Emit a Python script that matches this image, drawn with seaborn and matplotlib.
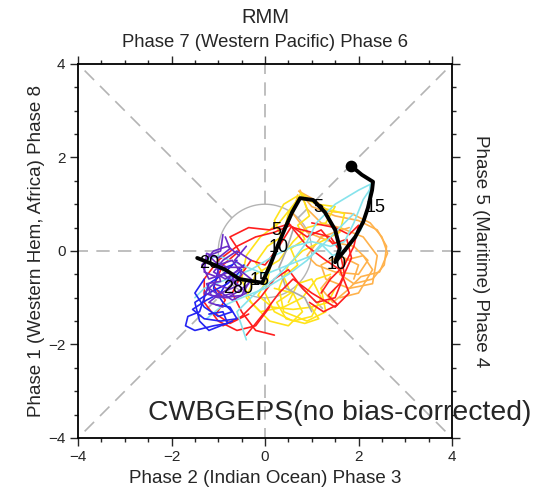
import numpy as np
import pandas as pd
import matplotlib
matplotlib.use("Agg")
import matplotlib.pyplot as plt
import seaborn as sns

# ---- ensemble member tracks (RMM1, RMM2), grouped by colour ----
orange_tracks = [
    [(0.75, 1.25), (1.0, 0.95), (1.5, 0.75), (2.0, 0.65), (2.4, 0.45), (2.6, 0.1), (2.55, -0.3),
     (2.3, -0.6), (1.9, -0.7), (1.6, -0.5), (1.7, -0.2), (2.1, -0.1), (2.3, -0.4), (2.0, -0.9), (1.6, -1.0)],
    [(0.75, 1.3), (0.9, 0.9), (1.2, 0.6), (1.6, 0.5), (2.1, 0.3), (2.4, -0.1), (2.3, -0.7),
     (1.8, -0.8), (1.3, -0.6), (1.2, -0.3), (1.6, -0.1), (2.0, -0.3), (1.9, -0.6)],
    [(0.7, 1.2), (0.6, 0.8), (0.9, 0.4), (1.4, 0.2), (1.9, 0.1), (2.2, -0.2), (2.0, -0.5),
     (1.5, -0.45), (1.1, -0.3), (0.9, -0.1), (1.2, 0.3), (1.8, 0.5)],
    [(0.72, 1.28), (1.05, 1.1), (1.35, 0.85), (1.85, 0.8), (2.25, 0.6), (2.5, 0.3), (2.62, -0.05),
     (2.45, -0.45), (2.05, -0.55), (1.75, -0.85), (1.45, -1.1), (1.2, -0.8), (1.4, -0.55)],
]
yellow_tracks = [
    [(0.75, 1.2), (0.5, 0.8), (0.4, 0.4), (0.2, 0.0), (0.1, -0.4), (0.0, -0.9), (0.2, -1.3),
     (0.6, -1.5), (1.0, -1.4), (1.2, -1.0), (1.0, -0.6), (0.7, -0.7), (0.5, -1.1)],
    [(0.8, 1.15), (1.3, 0.9), (1.7, 0.8), (1.6, 0.4), (1.2, 0.2), (0.8, 0.0), (0.5, -0.3),
     (0.3, -0.8), (0.4, -1.3), (0.9, -1.5), (1.3, -1.3), (1.2, -0.8)],
    [(0.7, 1.1), (0.3, 0.6), (-0.1, 0.3), (-0.4, -0.1), (-0.5, -0.6), (-0.3, -1.1), (0.1, -1.5),
     (0.5, -1.6), (0.8, -1.3), (0.6, -0.9), (0.2, -0.8)],
    [(0.75, 1.25), (1.1, 1.0), (1.5, 0.95), (1.3, 0.6), (0.9, 0.5), (0.6, 0.2), (0.3, -0.2),
     (-0.2, -0.5), (-0.4, -1.0), (-0.1, -1.3), (0.4, -1.2), (0.8, -1.0), (1.1, -0.6), (1.4, -0.5)],
    [(0.78, 1.22), (0.95, 0.75), (0.7, 0.55), (0.85, 0.25), (0.55, 0.05), (0.7, -0.3), (0.4, -0.55),
     (0.55, -0.9), (0.25, -1.1), (0.45, -1.45), (0.85, -1.55), (1.15, -1.45), (0.95, -1.15)],
    [(0.7, 1.18), (0.4, 1.0), (0.2, 0.65), (0.35, 0.3), (0.05, 0.1), (-0.2, -0.25), (0.05, -0.6),
     (-0.15, -0.95), (0.15, -1.2), (0.6, -1.25), (1.0, -1.2), (1.35, -1.1), (1.5, -0.8)],
]
gray_tracks = [
    [(0.6, 0.45), (0.45, 0.0), (0.3, -0.35), (0.45, -0.8), (0.85, -1.0), (1.0, -1.3)],
]
red_tracks = [
    [(0.55, 0.55), (0.2, 0.4), (-0.2, 0.3), (-0.6, 0.1), (-1.0, -0.2), (-1.3, -0.6), (-1.3, -1.1),
     (-1.0, -1.5), (-0.6, -1.7), (-0.2, -1.6), (0.1, -1.2)],
    [(0.6, 0.5), (1.0, 0.4), (1.4, 0.3), (1.6, 0.0), (1.7, -0.5), (1.5, -1.0), (1.1, -1.1),
     (0.8, -0.8), (0.5, -0.4), (0.2, -0.6), (-0.1, -1.0), (-0.5, -1.4), (-0.9, -1.6)],
    [(0.5, 0.6), (0.9, 0.1), (1.3, -0.2), (1.6, -0.4), (1.8, -0.9), (1.5, -1.2), (1.0, -0.9),
     (0.6, -0.6), (0.3, -0.9), (0.0, -1.3), (-0.4, -1.8)],
    [(0.55, 0.5), (0.3, 0.1), (0.0, -0.3), (-0.3, -0.2), (-0.5, -0.5), (-0.7, -0.9), (-0.5, -1.3),
     (-0.2, -1.7), (0.2, -1.8)],
    [(1.0, 0.6), (1.5, 0.5), (1.8, 0.35), (2.0, 0.55), (1.9, 0.1), (1.7, -0.3), (1.4, -0.6), (1.2, -0.9)],
    [(0.58, 0.52), (0.9, 0.3), (1.2, 0.45), (1.45, 0.15), (1.75, 0.25), (1.85, -0.15), (1.6, -0.7),
     (1.35, -0.95), (1.55, -1.15), (1.25, -1.3), (0.95, -1.1)],
    [(0.52, 0.58), (0.1, 0.45), (-0.35, 0.5), (-0.75, 0.3), (-0.55, 0.0), (-0.9, -0.3), (-1.1, -0.75),
     (-0.85, -1.05), (-1.05, -1.35), (-0.75, -1.55), (-0.35, -1.35)],
]
cyan_tracks = [
    [(2.3, 1.45), (2.0, 1.3), (1.5, 1.0), (1.1, 0.6), (0.9, 0.2), (0.6, -0.2), (0.2, -0.6),
     (-0.2, -0.9), (-0.6, -1.3), (-0.5, -1.6), (-0.4, -1.9)],
    [(2.3, 1.4), (2.1, 1.1), (1.9, 0.6), (1.7, 0.2), (1.4, 0.1), (1.0, 0.2), (0.6, 0.1),
     (0.2, -0.1), (-0.3, -0.4), (-0.8, -0.6), (-1.3, -0.8), (-1.5, -1.0)],
    [(1.9, 0.8), (1.5, 0.4), (1.0, -0.1), (0.5, -0.3), (0.0, -0.5), (-0.5, -0.3), (-1.0, -0.1), (-1.3, -0.2)],
    [(2.25, 1.42), (2.2, 0.95), (2.05, 0.45), (1.75, 0.05), (1.45, -0.1), (1.2, 0.15), (0.9, -0.2),
     (0.5, -0.5), (0.0, -0.8), (-0.5, -1.0), (-0.95, -1.2), (-1.25, -1.45)],
]
blue_tracks = [
    [(-0.6, -0.2), (-0.9, -0.5), (-1.2, -0.7), (-1.3, -1.0), (-1.4, -1.3), (-1.65, -1.4), (-1.7, -1.6),
     (-1.5, -1.7), (-1.1, -1.6), (-0.8, -1.55), (-0.9, -1.3), (-1.2, -1.35)],
    [(-0.7, -0.3), (-1.0, -0.4), (-1.1, -0.8), (-0.9, -1.1), (-0.7, -1.3), (-1.0, -1.4), (-1.3, -1.2),
     (-1.5, -0.9), (-1.3, -0.6)],
    [(-0.5, -0.4), (-0.8, -0.7), (-1.2, -0.9), (-1.5, -1.1), (-1.4, -1.5), (-1.2, -1.7), (-0.7, -1.5)],
    [(-0.45, -0.3), (-0.75, -0.55), (-0.95, -0.9), (-1.25, -1.05), (-1.55, -1.25), (-1.3, -1.45),
     (-0.95, -1.5), (-0.6, -1.45), (-0.75, -1.2), (-1.05, -1.15)],
]
purple_tracks = [
    [(-0.9, 0.35), (-0.95, 0.0), (-1.2, -0.1), (-1.0, -0.3), (-0.7, -0.2), (-0.5, -0.5), (-0.8, -0.8),
     (-1.1, -0.7), (-1.3, -0.9), (-1.0, -1.0), (-0.7, -0.9)],
    [(-0.55, -0.1), (-0.8, 0.1), (-1.1, 0.0), (-1.35, -0.3), (-1.2, -0.6), (-0.9, -0.5), (-0.6, -0.7),
     (-0.4, -0.9), (-0.7, -1.05), (-1.0, -0.85)],
    [(-0.3, -0.2), (-0.6, 0.0), (-0.9, -0.2), (-1.1, -0.45), (-0.85, -0.6), (-0.55, -0.4), (-0.3, -0.6),
     (-0.5, -0.95), (-0.9, -1.0), (-1.2, -0.8)],
    [(-0.85, 0.3), (-0.75, 0.05), (-1.0, -0.15), (-1.25, -0.05), (-1.3, -0.45), (-1.05, -0.55),
     (-0.75, -0.45), (-0.6, -0.75), (-0.95, -0.9), (-1.2, -1.1), (-0.9, -1.2)],
    [(-0.4, 0.1), (-0.65, -0.2), (-0.45, -0.35), (-0.8, -0.35), (-1.05, -0.25), (-0.95, -0.65),
     (-1.25, -0.7), (-1.15, -0.95), (-0.8, -1.0), (-0.55, -0.85), (-0.35, -0.7)],
]

# ---- analysed MJO track and its day labels ----
obs_rmm1 = [-1.45, -1.2, -0.85, -0.55, -0.06, 0.11, 0.28, 0.43, 0.58, 0.75, 1.03, 1.28, 1.5, 1.6,
            1.5, 1.71, 1.93, 2.1, 2.2, 2.29, 2.31, 2.07, 1.84]
obs_rmm2 = [-0.15, -0.25, -0.4, -0.6, -0.68, -0.3, 0.13, 0.49, 0.83, 1.13, 1.09, 0.83, 0.45, 0.06,
            -0.24, 0.02, 0.3, 0.62, 0.92, 1.3, 1.48, 1.63, 1.82]
day_labels = ["20", "280", "15", "5", "10", "5", "10", "15"]
day_label_x = [-1.2, -0.58, -0.12, 0.24, 0.3, 1.13, 1.54, 2.37]
day_label_y = [-0.26, -0.81, -0.64, 0.44, 0.08, 0.94, -0.30, 0.92]

tick_values = [-4, -2, 0, 2, 4]
palette = {"orange": "#FFB24C", "yellow": "#FFE31A", "gray": "#A8A8A8", "red": "#FF1E1E",
           "cyan": "#86E3EC", "blue": "#2424F2", "purple": "#6A2CC8"}

rows = []
groups = [("orange", orange_tracks), ("yellow", yellow_tracks), ("gray", gray_tracks),
          ("red", red_tracks), ("cyan", cyan_tracks), ("blue", blue_tracks),
          ("purple", purple_tracks)]
member = 0
for name, tracks in groups:
    for tr in tracks:
        for step, (x, y) in enumerate(tr):
            rows.append({"group": name, "member": member, "step": step, "RMM1": x, "RMM2": y})
        member += 1
members = pd.DataFrame(rows)
obs = pd.DataFrame({"RMM1": obs_rmm1, "RMM2": obs_rmm2})

sns.set_style("ticks")
plt.rcParams["font.family"] = ["Liberation Sans", "DejaVu Sans"]

fig = plt.figure(figsize=(5.56, 4.95), dpi=100)
ax = fig.add_axes([0.1403, 0.1152, 0.6727, 0.7556])
ax.set_xlim(-4, 4)
ax.set_ylim(-4, 4)

# phase-space guide lines
dash = dict(color="#B4B4B4", lw=1.2, dashes=(8, 5), zorder=1)
r0, r1 = 1.0, 4 * np.sqrt(2)
for ang in np.deg2rad(np.arange(0, 360, 45)):
    ax.plot([r0 * np.cos(ang), r1 * np.cos(ang)], [r0 * np.sin(ang), r1 * np.sin(ang)], **dash)
th = np.linspace(0, 2 * np.pi, 200)
ax.plot(np.cos(th), np.sin(th), color="#B4B4B4", lw=1.0, zorder=1)

for name, _ in groups:
    sub = members[members.group == name]
    sns.lineplot(data=sub, x="RMM1", y="RMM2", units="member", estimator=None, sort=False,
                 color=palette[name], lw=1.2, ax=ax, legend=False, zorder=2)

sns.lineplot(data=obs, x="RMM1", y="RMM2", sort=False, estimator=None, color="black",
             lw=2.8, ax=ax, legend=False, zorder=3)
ax.scatter([obs_rmm1[-1]], [obs_rmm2[-1]], s=55, color="black", zorder=4)
for t, x, y in zip(day_labels, day_label_x, day_label_y):
    ax.text(x, y, t, fontsize=13, ha="center", va="center", color="black", zorder=5)

ax.text(-2.5, -3.61, "CWBGEPS(no bias-corrected)", fontsize=20.4, ha="left", va="baseline",
        clip_on=False, zorder=6)

# axes frame and ticks
for sp in ax.spines.values():
    sp.set_linewidth(1.3)
    sp.set_color("black")
ax.set_xticks(tick_values)
ax.set_yticks(tick_values)
ax.set_xticks(np.arange(-4, 4.01, 0.5), minor=True)
ax.set_yticks(np.arange(-4, 4.01, 0.5), minor=True)
ax.tick_params(which="both", direction="out", top=True, right=True, width=1.0, labelsize=11,
               labeltop=False, labelright=False)
ax.tick_params(which="major", length=6, pad=3)
ax.tick_params(which="minor", length=3)

ax.set_xlabel("Phase 2 (Indian Ocean) Phase 3", fontsize=13.5, labelpad=4)
ax.set_ylabel("Phase 1 (Western Hem, Africa) Phase 8", fontsize=13.5, labelpad=2)
ax.text(1.0 + 0.075, 0.5, "Phase 5 (Maritime) Phase 4", transform=ax.transAxes, rotation=-90,
        fontsize=13.5, ha="center", va="center")
ax.text(0.5, 1.035, "Phase 7 (Western Pacific) Phase 6", transform=ax.transAxes,
        fontsize=13.3, ha="center", va="bottom")
fig.text(0.4766, 0.965, "RMM", fontsize=14.5, ha="center", va="center")

fig.savefig("out.png", dpi=100)
